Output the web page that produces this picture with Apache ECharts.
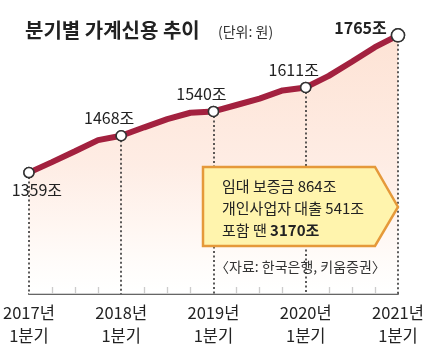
<!DOCTYPE html>
<html><head><meta charset="utf-8">
<script src="https://cdn.jsdelivr.net/npm/echarts@6/dist/echarts.min.js"></script>
<style>html,body{margin:0;padding:0;background:#fff}#c{width:427px;height:356px}</style>
</head><body><div id="c"></div>
<script>
const categories = ['2017년\n1분기','2017년\n2분기','2017년\n3분기','2017년\n4분기',
  '2018년\n1분기','2018년\n2분기','2018년\n3분기','2018년\n4분기',
  '2019년\n1분기','2019년\n2분기','2019년\n3분기','2019년\n4분기',
  '2020년\n1분기','2020년\n2분기','2020년\n3분기','2020년\n4분기',
  '2021년\n1분기'];
const credit = [1359,1390,1422,1455,1468,1493,1517,1536,1540,1559,1578,1602,1611,1645,1687,1730,1765];
const labeledIdx = [0,4,8,12,16];
const yMin = 1000, yMax = 1800;
const titleText = '분기별 가계신용 추이';
const unitText = '(단위: 원)';
const noteLines = ['임대 보증금 864조','개인사업자 대출 541조'];
const noteBoldPrefix = '포함 땐 ';
const noteBold = '3170조';
const sourceText = '〈자료: 한국은행, 키움증권〉';

const NARROW = "'Noto Sans CJK KR','Noto Sans',sans-serif";
const KR = "'Noto Sans CJK KR','Noto Sans',sans-serif";
const chart = echarts.init(document.getElementById('c'), null, {renderer:'canvas'});

function labelCfg(i){
  if (labeledIdx.indexOf(i) < 0) return {show:false};
  if (i === 0) return {show:true, position:'bottom', distance:4, offset:[8,0]};
  if (i === credit.length-1) return {show:true, position:'left', distance:4, offset:[0,-7], fontWeight:'bold'};
  return {show:true, position:'top', distance:4, offset:[-12,0]};
}
const seriesData = credit.map((v,i)=>({
  value:v,
  symbolSize: i===credit.length-1 ? 13 : 10,
  symbol: labeledIdx.indexOf(i)>=0 ? 'circle' : 'none',
  label: labelCfg(i)
}));
const dotLines = labeledIdx.map(i=>[{coord:[i, credit[i]]},{coord:[i, yMin]}]);

chart.setOption({
  animation:false,
  grid:{left:26,right:29,top:23.5,bottom:62},
  xAxis:{type:'category',data:categories,boundaryGap:false,
    axisLine:{lineStyle:{color:'#666',width:2}},
    axisTick:{inside:true,length:7,interval:(i)=>i%4!==0,lineStyle:{color:'#555',width:1.3}},
    axisLabel:{interval:(i)=>i%4===0,margin:7,fontSize:16.5,lineHeight:23,color:'#222',fontFamily:NARROW},
    splitLine:{show:false}},
  yAxis:{type:'value',min:yMin,max:yMax,show:false},
  series:[{
    type:'line',data:seriesData,showAllSymbol:true,
    lineStyle:{color:'#a3213f',width:6},
    itemStyle:{color:'#fff',borderColor:'#333',borderWidth:1.5},
    label:{formatter:'{c}조',fontSize:16,color:'#222',fontFamily:NARROW},
    areaStyle:{origin:'start',color:new echarts.graphic.LinearGradient(0,0,0,1,[
      {offset:0,color:'#fcd6c2'},{offset:0.5,color:'#fde4d8'},{offset:0.88,color:'#fffaf7'},{offset:1,color:'#ffffff'}])},
    z:3
  },{
    type:'line',data:[],z:4,silent:true,
    markLine:{silent:true,symbol:['none','none'],label:{show:false},
      emphasis:{disabled:true},
      lineStyle:{color:'#333',type:[2,2.5],width:1.6,opacity:1},data:dotLines}
  },{
    type:'line',data:seriesData.map(d=>({value:d.value,symbol:d.symbol,symbolSize:d.symbolSize})),
    showAllSymbol:true,lineStyle:{opacity:0},silent:true,z:5,
    itemStyle:{color:'#fff',borderColor:'#333',borderWidth:1.5},label:{show:false}
  }],
  graphic:[
    {type:'text',left:25,top:20,style:{text:titleText,font:"bold 20px "+KR,fill:'#222'}},
    {type:'text',left:218,top:25,style:{text:unitText,font:"14px "+NARROW,fill:'#333'}},
    {type:'polygon',z:10,shape:{points:[[203,167],[375,167],[398,207],[375,246],[203,246]]},
      style:{fill:'#fff4ad',stroke:'#e5993a',lineWidth:2.5}},
    {type:'text',z:11,left:222,top:175,style:{
      text:noteLines.join('\n')+'\n'+noteBoldPrefix+'{b|'+noteBold+'}',
      font:"15px "+NARROW,fill:'#222',lineHeight:22,
      rich:{b:{fontWeight:'bold',fontSize:15,fontFamily:NARROW,fill:'#222'}}}},
    {type:'text',z:11,left:215,top:260,style:{text:sourceText,font:"14px "+NARROW,fill:'#333'}}
  ]
});
</script></body></html>
